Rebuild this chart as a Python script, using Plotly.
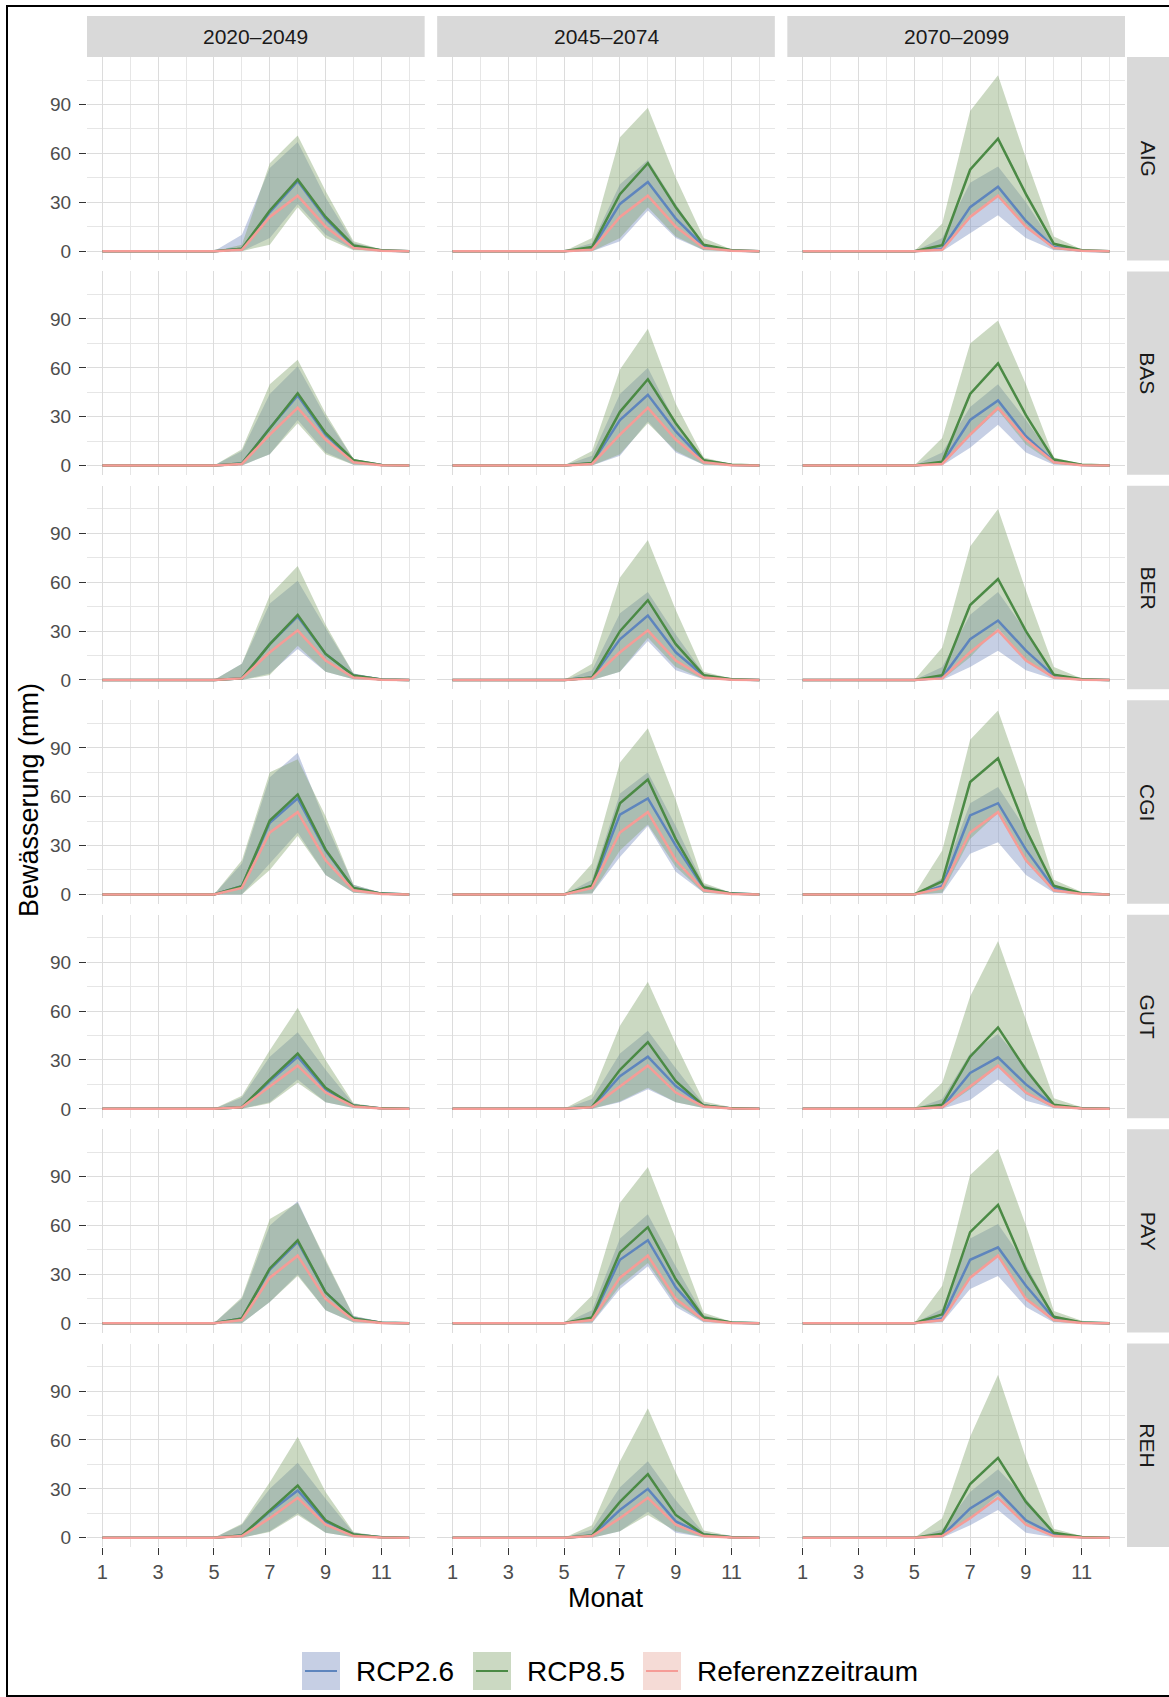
"""Monthly irrigation (Bewässerung) per station and period, RCP scenarios vs reference."""

import plotly.graph_objects as go
from plotly.subplots import make_subplots

MONTHS = list(range(1, 13))
STATIONS = ["AIG", "BAS", "BER", "CGI", "GUT", "PAY", "REH"]
PERIODS = ["2020–2049", "2045–2074", "2070–2099"]
SCENARIOS = ["RCP2.6", "RCP8.5", "Referenzzeitraum"]
Y_TICKS = [0, 30, 60, 90]
X_TICKS = [1, 3, 5, 7, 9, 11]

# reference period (same in every column)
REF_MEAN = {
    "AIG": [0, 0, 0, 0, 0, 0.8, 21, 34, 15, 2, 0.2, 0],
    "BAS": [0, 0, 0, 0, 0, 1, 19, 35.5, 16, 2, 0.2, 0],
    "BER": [0, 0, 0, 0, 0, 1, 17, 30.5, 12, 1.5, 0.2, 0],
    "CGI": [0, 0, 0, 0, 0, 4, 38, 50.5, 21, 2.5, 0.3, 0],
    "GUT": [0, 0, 0, 0, 0, 1, 14, 26.5, 10, 1.5, 0.2, 0],
    "PAY": [0, 0, 0, 0, 0, 2, 28, 41.5, 15, 2, 0.2, 0],
    "REH": [0, 0, 0, 0, 0, 1, 12, 24.5, 8, 1, 0.2, 0],
}
REF_LOW = {
    "AIG": [0, 0, 0, 0, 0, 0.6, 20, 33, 14.3, 1.8, 0.1, 0],
    "BAS": [0, 0, 0, 0, 0, 0.8, 18, 34.5, 15.3, 1.8, 0.1, 0],
    "BER": [0, 0, 0, 0, 0, 0.8, 16.2, 29.5, 11.3, 1.3, 0.1, 0],
    "CGI": [0, 0, 0, 0, 0, 3.6, 37, 49.5, 20.2, 2.3, 0.2, 0],
    "GUT": [0, 0, 0, 0, 0, 0.8, 13.3, 25.5, 9.4, 1.3, 0.1, 0],
    "PAY": [0, 0, 0, 0, 0, 1.8, 27, 40.5, 14.3, 1.8, 0.1, 0],
    "REH": [0, 0, 0, 0, 0, 0.8, 11.3, 23.5, 7.4, 0.8, 0.1, 0],
}
REF_HIGH = {
    "AIG": [0, 0, 0, 0, 0, 1, 22, 35, 15.7, 2.2, 0.3, 0],
    "BAS": [0, 0, 0, 0, 0, 1.2, 20, 36.5, 16.7, 2.2, 0.3, 0],
    "BER": [0, 0, 0, 0, 0, 1.2, 17.8, 31.5, 12.7, 1.7, 0.3, 0],
    "CGI": [0, 0, 0, 0, 0, 4.4, 39, 51.5, 21.8, 2.7, 0.4, 0],
    "GUT": [0, 0, 0, 0, 0, 1.2, 14.7, 27.5, 10.6, 1.7, 0.3, 0],
    "PAY": [0, 0, 0, 0, 0, 2.2, 29, 42.5, 15.7, 2.2, 0.3, 0],
    "REH": [0, 0, 0, 0, 0, 1.2, 12.7, 25.5, 8.6, 1.2, 0.3, 0],
}

# RCP2.6: one list per period (2020-2049, 2045-2074, 2070-2099)
RCP26_MEAN = {
    "AIG": [[0, 0, 0, 0, 0, 1.5, 24, 43, 20, 3, 0.4, 0],
            [0, 0, 0, 0, 0, 1.5, 29, 42.5, 20, 3, 0.4, 0],
            [0, 0, 0, 0, 0, 1.5, 27, 39.5, 18.5, 2.5, 0.3, 0]],
    "BAS": [[0, 0, 0, 0, 0, 1.2, 23, 43, 19, 3, 0.4, 0],
            [0, 0, 0, 0, 0, 1.5, 28, 43.5, 21, 3, 0.4, 0],
            [0, 0, 0, 0, 0, 1.5, 28, 40, 18, 2.5, 0.3, 0]],
    "BER": [[0, 0, 0, 0, 0, 1, 22, 39, 16, 2.7, 0.3, 0],
            [0, 0, 0, 0, 0, 1.5, 25, 39.6, 17, 2.5, 0.3, 0],
            [0, 0, 0, 0, 0, 1.5, 25, 36.5, 18, 2.5, 0.3, 0]],
    "CGI": [[0, 0, 0, 0, 0, 5, 44, 59, 27, 4, 0.5, 0],
            [0, 0, 0, 0, 0, 5, 49, 59, 30, 4, 0.5, 0],
            [0, 0, 0, 0, 0, 5, 48.5, 56, 27.5, 4, 0.5, 0]],
    "GUT": [[0, 0, 0, 0, 0, 1, 17, 32, 12, 2, 0.3, 0],
            [0, 0, 0, 0, 0, 1, 20, 32, 14, 2, 0.3, 0],
            [0, 0, 0, 0, 0, 1, 22, 31.6, 15, 2, 0.3, 0]],
    "PAY": [[0, 0, 0, 0, 0, 3, 33, 50, 19, 3, 0.4, 0],
            [0, 0, 0, 0, 0, 3, 39, 51, 22, 3, 0.4, 0],
            [0, 0, 0, 0, 0, 3, 39, 46.6, 23, 3, 0.4, 0]],
    "REH": [[0, 0, 0, 0, 0, 1.4, 16, 29, 10, 2, 0.3, 0],
            [0, 0, 0, 0, 0, 1.2, 17, 30, 10, 2, 0.3, 0],
            [0, 0, 0, 0, 0, 1.2, 18, 28.5, 10.7, 2, 0.3, 0]],
}
RCP26_LOW = {
    "AIG": [[0, 0, 0, 0, 0, 0, 8, 29, 10, 1, 0, 0],
            [0, 0, 0, 0, 0, 0, 6, 25, 8, 0.5, 0, 0],
            [0, 0, 0, 0, 0, 0, 11, 22, 8, 0.5, 0, 0]],
    "BAS": [[0, 0, 0, 0, 0, 0, 7, 28, 8, 0.5, 0, 0],
            [0, 0, 0, 0, 0, 0, 6, 27, 8, 0.5, 0, 0],
            [0, 0, 0, 0, 0, 0, 11, 25, 8, 0.5, 0, 0]],
    "BER": [[0, 0, 0, 0, 0, 0, 4, 19, 5, 0.5, 0, 0],
            [0, 0, 0, 0, 0, 0, 5, 24, 6, 0.5, 0, 0],
            [0, 0, 0, 0, 0, 0, 8, 18, 6, 0.5, 0, 0]],
    "CGI": [[0, 0, 0, 0, 0, 0, 19, 38, 12, 1, 0, 0],
            [0, 0, 0, 0, 0, 0.5, 23, 42, 14, 1, 0, 0],
            [0, 0, 0, 0, 0, 0.5, 25, 32, 12, 1, 0, 0]],
    "GUT": [[0, 0, 0, 0, 0, 0, 4, 18, 4, 0.5, 0, 0],
            [0, 0, 0, 0, 0, 0, 4, 12, 4, 0.5, 0, 0],
            [0, 0, 0, 0, 0, 0, 5.5, 18, 5, 0.3, 0, 0]],
    "PAY": [[0, 0, 0, 0, 0, 0, 13, 30, 8, 0.5, 0, 0],
            [0, 0, 0, 0, 0, 0, 21, 35, 10, 0.5, 0, 0],
            [0, 0, 0, 0, 0, 0.5, 21, 29, 10, 0.5, 0, 0]],
    "REH": [[0, 0, 0, 0, 0, 0, 4, 15, 3, 0.3, 0, 0],
            [0, 0, 0, 0, 0, 0, 4, 16, 3, 0.3, 0, 0],
            [0, 0, 0, 0, 0, 0, 7.6, 17, 3, 0.3, 0, 0]],
}
RCP26_HIGH = {
    "AIG": [[0, 0, 0, 0, 0, 10, 51, 67, 33, 5, 1, 0],
            [0, 0, 0, 0, 0, 5, 41, 56, 29, 4, 0.8, 0],
            [0, 0, 0, 0, 0, 8, 42, 52, 30, 4, 0.8, 0]],
    "BAS": [[0, 0, 0, 0, 0, 9, 44, 61, 30, 4, 0.8, 0],
            [0, 0, 0, 0, 0, 6, 44, 60, 26, 4, 0.8, 0],
            [0, 0, 0, 0, 0, 8, 36, 50, 28, 4, 0.8, 0]],
    "BER": [[0, 0, 0, 0, 0, 10, 47, 61, 32, 4, 0.8, 0],
            [0, 0, 0, 0, 0, 6, 41, 54, 28, 4, 0.8, 0],
            [0, 0, 0, 0, 0, 8, 40, 54, 30, 4, 0.8, 0]],
    "CGI": [[0, 0, 0, 0, 0, 19, 72, 87, 44, 6, 1, 0],
            [0, 0, 0, 0, 0, 9, 62, 75, 42, 6, 1, 0],
            [0, 0, 0, 0, 0, 10, 56, 66, 40, 6, 1, 0]],
    "GUT": [[0, 0, 0, 0, 0, 7, 32, 47, 24, 3, 0.6, 0],
            [0, 0, 0, 0, 0, 6, 34, 48, 25, 3, 0.6, 0],
            [0, 0, 0, 0, 0, 6, 34, 46, 26, 3, 0.6, 0]],
    "PAY": [[0, 0, 0, 0, 0, 15, 60, 75, 38, 4.5, 1, 0],
            [0, 0, 0, 0, 0, 8, 52, 67, 35, 5, 1, 0],
            [0, 0, 0, 0, 0, 9, 52, 61, 36, 5, 1, 0]],
    "REH": [[0, 0, 0, 0, 0, 8, 30, 46, 24, 3, 0.6, 0],
            [0, 0, 0, 0, 0, 5, 31, 47, 23, 3, 0.6, 0],
            [0, 0, 0, 0, 0, 5, 28, 42, 24, 3, 0.6, 0]],
}

# RCP8.5
RCP85_MEAN = {
    "AIG": [[0, 0, 0, 0, 0, 1.5, 25, 44, 21, 3.5, 0.5, 0],
            [0, 0, 0, 0, 0, 2.5, 35, 54, 27, 4, 0.5, 0],
            [0, 0, 0, 0, 0, 3.7, 50, 69, 35, 4.5, 0.5, 0]],
    "BAS": [[0, 0, 0, 0, 0, 1.2, 23, 44.4, 20, 3.3, 0.4, 0],
            [0, 0, 0, 0, 0, 1.6, 33, 53, 26, 3.3, 0.5, 0],
            [0, 0, 0, 0, 0, 2.3, 44, 62.8, 31, 3.7, 0.5, 0]],
    "BER": [[0, 0, 0, 0, 0, 1, 22, 40, 16, 2.7, 0.3, 0],
            [0, 0, 0, 0, 0, 1.5, 30, 49, 22, 3, 0.4, 0],
            [0, 0, 0, 0, 0, 3, 46, 62, 30, 3.3, 0.5, 0]],
    "CGI": [[0, 0, 0, 0, 0, 5, 45.4, 61.4, 27.5, 4, 0.5, 0],
            [0, 0, 0, 0, 0, 5.3, 56, 70.6, 34, 4.5, 0.5, 0],
            [0, 0, 0, 0, 0, 8, 69, 83.6, 40, 5.3, 0.6, 0]],
    "GUT": [[0, 0, 0, 0, 0, 1, 18, 34, 13, 2, 0.3, 0],
            [0, 0, 0, 0, 0, 1.2, 24, 41, 17, 2, 0.3, 0],
            [0, 0, 0, 0, 0, 2.5, 32, 50, 24, 2.5, 0.4, 0]],
    "PAY": [[0, 0, 0, 0, 0, 3, 33.7, 51, 19, 3, 0.4, 0],
            [0, 0, 0, 0, 0, 3.5, 43.5, 59, 27, 3.5, 0.5, 0],
            [0, 0, 0, 0, 0, 5.5, 56, 72.7, 33, 4, 0.5, 0]],
    "REH": [[0, 0, 0, 0, 0, 1.4, 17, 32, 10.7, 2, 0.3, 0],
            [0, 0, 0, 0, 0, 1.4, 22, 39, 14, 2, 0.3, 0],
            [0, 0, 0, 0, 0, 2.5, 33, 49, 22, 3, 0.4, 0]],
}
RCP85_LOW = {
    "AIG": [[0, 0, 0, 0, 0, 0, 4, 27, 8, 0.5, 0, 0],
            [0, 0, 0, 0, 0, 0, 8, 27, 9, 0.5, 0, 0],
            [0, 0, 0, 0, 0, 0.5, 22, 34, 15, 1, 0, 0]],
    "BAS": [[0, 0, 0, 0, 0, 0, 7, 26, 7, 0.5, 0, 0],
            [0, 0, 0, 0, 0, 0, 7, 26, 9, 0.5, 0, 0],
            [0, 0, 0, 0, 0, 0.3, 18, 34, 13, 1, 0, 0]],
    "BER": [[0, 0, 0, 0, 0, 0, 3, 21, 5, 0.5, 0, 0],
            [0, 0, 0, 0, 0, 0, 5, 26, 8, 0.5, 0, 0],
            [0, 0, 0, 0, 0, 0.3, 14, 32, 12, 1, 0, 0]],
    "CGI": [[0, 0, 0, 0, 0, 0, 15, 36, 12, 1, 0, 0],
            [0, 0, 0, 0, 0, 0.5, 27, 43, 17, 1, 0, 0],
            [0, 0, 0, 0, 0, 1, 34, 50, 20, 1.5, 0, 0]],
    "GUT": [[0, 0, 0, 0, 0, 0, 3.5, 16, 4, 0.5, 0, 0],
            [0, 0, 0, 0, 0, 0, 4.5, 13, 4, 0.5, 0, 0],
            [0, 0, 0, 0, 0, 0.2, 12, 26, 9, 0.5, 0, 0]],
    "PAY": [[0, 0, 0, 0, 0, 0, 13, 29, 8, 0.5, 0, 0],
            [0, 0, 0, 0, 0, 0.5, 23, 37, 12, 1, 0, 0],
            [0, 0, 0, 0, 0, 1, 29, 41, 15, 1, 0, 0]],
    "REH": [[0, 0, 0, 0, 0, 0, 3.5, 14, 3, 0.3, 0, 0],
            [0, 0, 0, 0, 0, 0, 4, 14, 4, 0.3, 0, 0],
            [0, 0, 0, 0, 0, 0.2, 12, 26, 8, 0.5, 0, 0]],
}
RCP85_HIGH = {
    "AIG": [[0, 0, 0, 0, 0, 4, 54, 71, 37, 6, 1, 0],
            [0, 0, 0, 0, 0, 8, 70, 88, 45, 8, 1, 0],
            [0, 0, 0, 0, 0, 17, 86, 108, 57, 9, 1, 0]],
    "BAS": [[0, 0, 0, 0, 0, 10, 50, 65, 32, 4, 1, 0],
            [0, 0, 0, 0, 0, 9, 59, 84, 38, 5, 1, 0],
            [0, 0, 0, 0, 0, 17, 75, 89, 50, 5, 1, 0]],
    "BER": [[0, 0, 0, 0, 0, 10, 52, 70, 34, 4, 1, 0],
            [0, 0, 0, 0, 0, 10, 63, 86, 43, 5, 1, 0],
            [0, 0, 0, 0, 0, 20, 82, 105, 55, 8, 1, 0]],
    "CGI": [[0, 0, 0, 0, 0, 21, 75, 83, 48, 6, 1, 0],
            [0, 0, 0, 0, 0, 19, 81, 102, 58, 7, 1, 0],
            [0, 0, 0, 0, 0, 27, 95, 113, 64, 9, 1.5, 0]],
    "GUT": [[0, 0, 0, 0, 0, 8, 36, 62, 30, 3.5, 0.8, 0],
            [0, 0, 0, 0, 0, 9, 51, 78, 40, 4.5, 1, 0],
            [0, 0, 0, 0, 0, 16, 69, 103, 55, 6.5, 1, 0]],
    "PAY": [[0, 0, 0, 0, 0, 16, 64, 74, 39, 4.5, 1, 0],
            [0, 0, 0, 0, 0, 17, 74, 96, 52, 6.5, 1, 0],
            [0, 0, 0, 0, 0, 23, 91, 107, 60, 7.5, 1.5, 0]],
    "REH": [[0, 0, 0, 0, 0, 8.6, 34, 62, 28, 3.5, 0.8, 0],
            [0, 0, 0, 0, 0, 7.6, 47, 79.5, 40, 4.5, 1, 0],
            [0, 0, 0, 0, 0, 12, 62, 100, 49, 5.5, 1, 0]],
}

LINE_COLORS = {"RCP2.6": "#5E85BD", "RCP8.5": "#4B8A45", "Referenzzeitraum": "#F59C97"}
FILL_COLORS = {
    "RCP2.6": "rgba(120,140,190,0.42)",
    "RCP8.5": "rgba(130,165,110,0.42)",
    "Referenzzeitraum": "rgba(230,170,157,0.42)",
}
FONT = "Arial, Liberation Sans, sans-serif"

# page geometry (pixels)
W, H = 1169, 1697
LEFT, RIGHT, TOP, BOTTOM = 87, 1125, 57, 1547
PW, PH = RIGHT - LEFT, BOTTOM - TOP


def px(x):
    return (x - LEFT) / PW


def py(y):
    return (BOTTOM - y) / PH


def series(station, col):
    """Mean, low, high per scenario for one panel."""
    return {
        "RCP2.6": (RCP26_MEAN[station][col], RCP26_LOW[station][col], RCP26_HIGH[station][col]),
        "RCP8.5": (RCP85_MEAN[station][col], RCP85_LOW[station][col], RCP85_HIGH[station][col]),
        "Referenzzeitraum": (REF_MEAN[station], REF_LOW[station], REF_HIGH[station]),
    }


fig = make_subplots(
    rows=len(STATIONS),
    cols=len(PERIODS),
    horizontal_spacing=12.5 / PW,
    vertical_spacing=11 / PH,
)

for r, station in enumerate(STATIONS, start=1):
    for c in range(len(PERIODS)):
        data = series(station, c)
        # ribbons first
        for sc in SCENARIOS:
            mean, low, high = data[sc]
            fig.add_trace(
                go.Scatter(
                    x=MONTHS + MONTHS[::-1],
                    y=high + low[::-1],
                    fill="toself",
                    fillcolor=FILL_COLORS[sc],
                    line=dict(width=0),
                    mode="lines",
                    hoverinfo="skip",
                    showlegend=False,
                ),
                row=r,
                col=c + 1,
            )
        # mean lines on top
        for sc in SCENARIOS:
            mean, low, high = data[sc]
            fig.add_trace(
                go.Scatter(
                    x=MONTHS,
                    y=mean,
                    mode="lines",
                    line=dict(color=LINE_COLORS[sc], width=2.5),
                    name=sc,
                    showlegend=False,
                ),
                row=r,
                col=c + 1,
            )

        bottom_row = r == len(STATIONS)
        first_col = c == 0
        fig.update_xaxes(
            range=[0.45, 12.55],
            tickvals=X_TICKS,
            showticklabels=bottom_row,
            ticks="outside" if bottom_row else "",
            ticklen=7,
            tickcolor="#333333",
            tickfont=dict(size=20, color="#4D4D4D", family=FONT),
            showgrid=True,
            gridcolor="#DCDCDC",
            gridwidth=1.3,
            minor=dict(tickvals=[2, 4, 6, 8, 10, 12], showgrid=True,
                       gridcolor="#E6E6E6", gridwidth=1),
            zeroline=False,
            showline=False,
            row=r,
            col=c + 1,
        )
        fig.update_yaxes(
            range=[-5.7, 119.2],
            tickvals=Y_TICKS,
            showticklabels=first_col,
            ticks="outside" if first_col else "",
            ticklen=7,
            tickcolor="#333333",
            ticklabelstandoff=4,
            tickfont=dict(size=19, color="#4D4D4D", family=FONT),
            showgrid=True,
            gridcolor="#DCDCDC",
            gridwidth=1.3,
            minor=dict(tickvals=[15, 45, 75, 105], showgrid=True,
                       gridcolor="#E6E6E6", gridwidth=1),
            zeroline=False,
            showline=False,
            row=r,
            col=c + 1,
        )

shapes = []
annotations = []

# facet strips on top (periods)
for c, period in enumerate(PERIODS):
    dom = fig.layout["xaxis" + ("" if c == 0 else str(c + 1))].domain
    shapes.append(dict(type="rect", xref="paper", yref="paper", x0=dom[0], x1=dom[1],
                       y0=py(57), y1=py(16), fillcolor="#D9D9D9", line=dict(width=0),
                       layer="below"))
    annotations.append(dict(text=period, xref="paper", yref="paper",
                            x=(dom[0] + dom[1]) / 2, y=py(36.5), showarrow=False,
                            xanchor="center", yanchor="middle",
                            font=dict(size=21, color="#1A1A1A", family=FONT)))

# facet strips on the right (stations)
for r, station in enumerate(STATIONS):
    idx = r * len(PERIODS) + 1
    dom = fig.layout["yaxis" + ("" if idx == 1 else str(idx))].domain
    shapes.append(dict(type="rect", xref="paper", yref="paper", x0=px(1127), x1=px(1172),
                       y0=dom[0], y1=dom[1], fillcolor="#D9D9D9", line=dict(width=0),
                       layer="below"))
    annotations.append(dict(text=station, xref="paper", yref="paper",
                            x=px(1148), y=(dom[0] + dom[1]) / 2, showarrow=False,
                            textangle=90, xanchor="center", yanchor="middle",
                            font=dict(size=21, color="#1A1A1A", family=FONT)))

# axis titles
annotations.append(dict(text="Monat", xref="paper", yref="paper", x=px(606), y=py(1598),
                        showarrow=False, xanchor="center", yanchor="middle",
                        font=dict(size=27, color="#000000", family=FONT)))
annotations.append(dict(text="Bewässerung (mm)", xref="paper", yref="paper",
                        x=px(29), y=py(800), showarrow=False, textangle=-90,
                        xanchor="center", yanchor="middle",
                        font=dict(size=27, color="#000000", family=FONT)))

# legend drawn as keys + labels at the bottom
legend_keys = {"RCP2.6": 302, "RCP8.5": 473, "Referenzzeitraum": 643}
for sc, kx in legend_keys.items():
    shapes.append(dict(type="rect", xref="paper", yref="paper", x0=px(kx), x1=px(kx + 38),
                       y0=py(1690), y1=py(1652), fillcolor=FILL_COLORS[sc],
                       line=dict(width=0)))
    shapes.append(dict(type="line", xref="paper", yref="paper", x0=px(kx + 3),
                       x1=px(kx + 35), y0=py(1671), y1=py(1671),
                       line=dict(color=LINE_COLORS[sc], width=2)))
    annotations.append(dict(text=sc, xref="paper", yref="paper", x=px(kx + 52),
                            y=py(1671), showarrow=False, xanchor="left",
                            yanchor="middle",
                            font=dict(size=28, color="#000000", family=FONT)))

# outer frame
shapes.append(dict(type="rect", xref="paper", yref="paper", x0=px(7), x1=px(1180),
                   y0=py(1696), y1=py(6), line=dict(color="#000000", width=2),
                   fillcolor="rgba(0,0,0,0)"))

fig.update_layout(
    width=W,
    height=H,
    margin=dict(l=LEFT, r=W - RIGHT, t=TOP, b=H - BOTTOM),
    plot_bgcolor="#FFFFFF",
    paper_bgcolor="#FFFFFF",
    showlegend=False,
    shapes=shapes,
    annotations=annotations,
    font=dict(family=FONT),
)

fig.write_html("out.html", config={"displayModeBar": False},
               post_script="document.body.style.margin='0';")
